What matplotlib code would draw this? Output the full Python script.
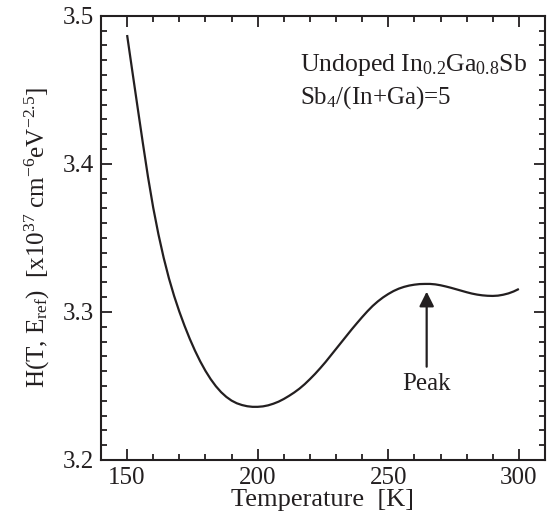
import matplotlib
matplotlib.use("Agg")
import matplotlib.pyplot as plt
from matplotlib.ticker import MultipleLocator

plt.rcParams['font.family'] = ['Liberation Serif', 'DejaVu Serif']
plt.rcParams['mathtext.fontset'] = 'custom'
plt.rcParams['mathtext.rm'] = 'Liberation Serif'
plt.rcParams['mathtext.it'] = 'Liberation Serif:italic'
plt.rcParams['mathtext.bf'] = 'Liberation Serif:bold'

temperature = [150, 152, 154, 156, 158, 160, 162, 164, 166, 168, 170, 172, 174, 176, 178,
               180, 182, 184, 186, 188, 190, 192, 194, 196, 198, 200, 202, 204, 206, 208,
               210, 212, 214, 216, 218, 220, 222, 224, 226, 228, 230, 232, 234, 236, 238,
               240, 242, 244, 246, 248, 250, 252, 254, 256, 258, 260, 262, 264, 266, 268,
               270, 272, 274, 276, 278, 280, 282, 284, 286, 288, 290, 292, 294, 296, 298,
               300]
h_value = [3.4870, 3.4626, 3.4384, 3.4144, 3.3912, 3.3704, 3.3524, 3.3366, 3.3228, 3.3108,
           3.3002, 3.2906, 3.2818, 3.2738, 3.2666, 3.2602, 3.2546, 3.2498, 3.2458, 3.2426,
           3.2401, 3.2383, 3.2371, 3.2363, 3.2359, 3.2359, 3.2362, 3.2369, 3.2380, 3.2394,
           3.2412, 3.2433, 3.2456, 3.2482, 3.2512, 3.2546, 3.2582, 3.2621, 3.2662, 3.2706,
           3.2750, 3.2794, 3.2838, 3.2882, 3.2924, 3.2965, 3.3004, 3.3040, 3.3071, 3.3098,
           3.3121, 3.3141, 3.3157, 3.3169, 3.3178, 3.3184, 3.3188, 3.3189, 3.3189, 3.3186,
           3.3180, 3.3172, 3.3163, 3.3153, 3.3143, 3.3133, 3.3124, 3.3117, 3.3112, 3.3109,
           3.3108, 3.3110, 3.3116, 3.3125, 3.3138, 3.3155]
x_ticks = [150, 200, 250, 300]
y_ticks = [3.2, 3.3, 3.4, 3.5]
peak_T = 264.7
peak_tip = 3.3137
peak_tail = 3.263

ink = '#231f20'
fig = plt.figure(figsize=(5.53, 5.26), dpi=100)
ax = fig.add_axes([0.1826, 0.1255, 0.8029, 0.8445])
ax.plot(temperature, h_value, color=ink, lw=1.6, solid_capstyle='butt')

ax.set_xlim(140, 310)
ax.set_ylim(3.2, 3.5)
ax.set_xticks(x_ticks)
ax.set_yticks(y_ticks)
ax.set_xticklabels([str(t) for t in x_ticks])
ax.set_yticklabels([f"{t:.1f}" for t in y_ticks])
ax.xaxis.set_minor_locator(MultipleLocator(10))
ax.yaxis.set_minor_locator(MultipleLocator(0.01))
ax.tick_params(which='both', direction='in', top=True, right=True, width=1.3,
               color=ink, labelsize=18, labelcolor=ink)
ax.tick_params(which='major', length=8, pad=5)
ax.tick_params(which='minor', length=4.3)
for s in ax.spines.values():
    s.set_linewidth(1.5)
    s.set_color(ink)

ax.set_xlabel('Temperature  [K]', fontsize=19, color=ink, labelpad=0)
ax.set_ylabel(r'H(T, E$_{\mathrm{ref}}$)  [x10$^{37}$ cm$^{-6}$eV$^{-2.5}$]',
              fontsize=18, color=ink, labelpad=8)

ax.annotate('', xy=(peak_T, peak_tip), xytext=(peak_T, peak_tail),
            arrowprops=dict(arrowstyle='-|>', color=ink, lw=1.6,
                            mutation_scale=22, shrinkA=0, shrinkB=0))
ax.text(peak_T, peak_tail - 0.004, 'Peak', fontsize=18, ha='center', va='top',
        color=ink)

ax.text(0.448, 0.89, r'Undoped In$_{0.2}$Ga$_{0.8}$Sb', transform=ax.transAxes,
        fontsize=18.5, ha='left', va='center', color=ink)
ax.text(0.448, 0.815, r'Sb$_{4}$/(In+Ga)=5', transform=ax.transAxes,
        fontsize=18, ha='left', va='center', color=ink)

fig.savefig('out.png', dpi=100)
